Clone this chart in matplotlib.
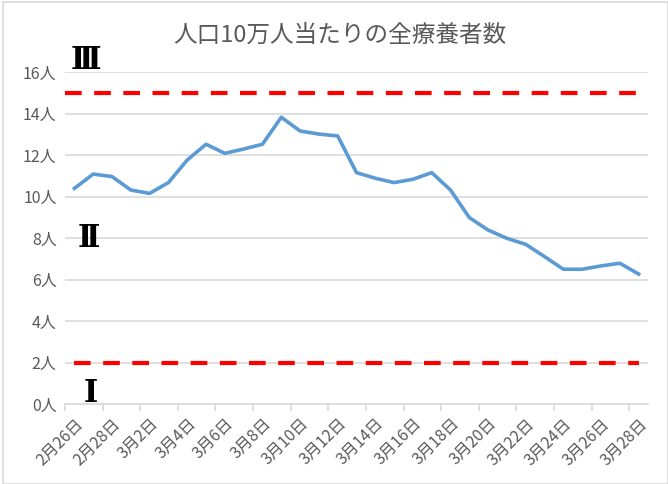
import matplotlib
matplotlib.use("Agg")
import matplotlib.pyplot as plt
from matplotlib.patches import Rectangle
import numpy as np

plt.rcParams['font.family'] = ['Noto Sans CJK JP', 'DejaVu Sans']

# Data
dates = ["2月26日", "2月27日", "2月28日", "3月1日", "3月2日", "3月3日", "3月4日", "3月5日",
         "3月6日", "3月7日", "3月8日", "3月9日", "3月10日", "3月11日", "3月12日", "3月13日",
         "3月14日", "3月15日", "3月16日", "3月17日", "3月18日", "3月19日", "3月20日", "3月21日",
         "3月22日", "3月23日", "3月24日", "3月25日", "3月26日", "3月27日", "3月28日"]
values = [10.40, 11.09, 10.97, 10.32, 10.16, 10.68, 11.77, 12.53,
          12.09, 12.30, 12.53, 13.83, 13.17, 13.02, 12.93, 11.16,
          10.89, 10.68, 10.84, 11.16, 10.32, 8.99, 8.39, 7.99,
          7.70, 7.11, 6.50, 6.50, 6.66, 6.79, 6.27]
upper_level = 15
lower_level = 2
yticks = [0, 2, 4, 6, 8, 10, 12, 14, 16]
ytick_labels = [f"{v}人" for v in yticks]
zone_labels = ["Ⅲ", "Ⅱ", "Ⅰ"]
zone_y = [16.5, 7.95, 0.45]
title = "人口10万人当たりの全療養者数"

W, H = 668, 484
fig = plt.figure(figsize=(W / 100, H / 100), dpi=100)
fig.patches.append(Rectangle((3 / W, 0), 1 - 3 / W, 1 - 1.5 / H, transform=fig.transFigure,
                             fill=False, edgecolor='#d9d9d9', linewidth=1.2))

ax = fig.add_axes([65 / W, 1 - 404 / H, (648 - 65) / W, (404 - 72.3) / H])
x = np.arange(len(values))
n = len(values)
ax.set_xlim(-0.5, n - 0.5)
ax.set_ylim(0, 16)

gray_txt = '#595959'
grid_c = '#d9d9d9'

ax.set_yticks(yticks)
ax.set_yticklabels(ytick_labels, fontsize=11.5, color=gray_txt)
ax.yaxis.grid(True, color=grid_c, linewidth=1.2)
ax.set_axisbelow(True)
ax.tick_params(axis='y', length=0, pad=6)

# x ticks: marks at boundaries, labels at centers
ax.set_xticks(np.arange(-0.5, n - 1, 2))
ax.set_xticklabels([])
ax.tick_params(axis='x', which='major', length=5, color=grid_c, width=1.2)
ax.set_xticks(x[::2], minor=True)
ax.set_xticklabels(dates[::2], minor=True, rotation=45, ha='right', va='top',
                   rotation_mode='anchor', fontsize=11.5, color=gray_txt)
ax.tick_params(axis='x', which='minor', length=0, pad=8)

for s in ['top', 'right', 'left']:
    ax.spines[s].set_visible(False)
ax.spines['bottom'].set_color(grid_c)
ax.spines['bottom'].set_linewidth(1.2)

ax.plot(x, values, color='#5B9BD5', linewidth=2.6, solid_joinstyle='round', zorder=3)

ax.axhline(upper_level, color='#ff0000', linewidth=3, dashes=(4, 3), zorder=2)
ax.plot([x[0], x[-1]], [lower_level, lower_level], color='#ff0000', linewidth=3,
        dashes=(4, 3), zorder=2)

for lab, yv, xv in zip(zone_labels, zone_y, [0.6, 0.75, 0.85]):
    ax.text(xv, yv, lab, fontsize=22, fontweight='bold',
            color='black', family=['Liberation Serif', 'DejaVu Serif', 'Noto Sans CJK JP'],
            ha='center', va='center', clip_on=False, zorder=4)

fig.text(340 / W, 1 - 35 / H, title, fontsize=17, color=gray_txt, ha='center', va='center')

fig.savefig("out.png", dpi=100)
